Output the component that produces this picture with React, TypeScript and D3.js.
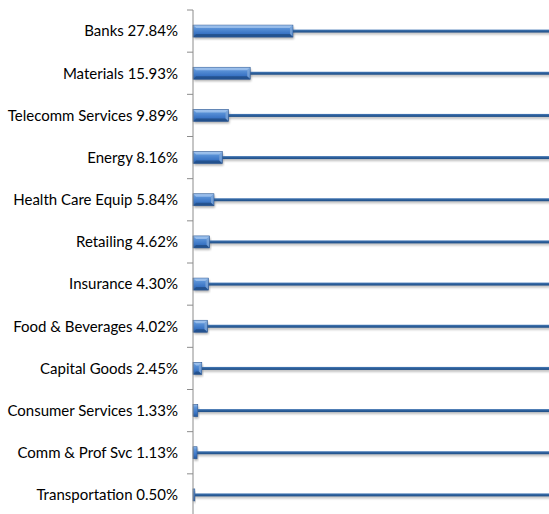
import React from "react";
import * as d3 from "d3";

const categories = [
  "Banks", "Materials", "Telecomm Services", "Energy", "Health Care Equip",
  "Retailing", "Insurance", "Food & Beverages", "Capital Goods",
  "Consumer Services", "Comm & Prof Svc", "Transportation",
];
const values = [27.84, 15.93, 9.89, 8.16, 5.84, 4.62, 4.3, 4.02, 2.45, 1.33, 1.13, 0.5];
const labels = categories.map((c, i) => `${c} ${values[i].toFixed(2)}%`);

const W = 549, H = 514;
const x0 = 193, top = 10, bottom = 516;

export default function App() {
  const x = d3.scaleLinear().domain([0, 100]).range([x0, 552]);
  const y = d3.scaleBand<string>().domain(categories).range([top, bottom]);
  const bw = y.bandwidth();
  const barH = 12;
  const lineH = 3;
  const ticks = d3.range(categories.length + 1).map((i) => top + i * bw);
  return (
    <svg width={W} height={H} style={{ position: "absolute", left: 0, top: 0 }}
      fontFamily="Lato, 'Open Sans', sans-serif">
      <defs>
        <linearGradient id="barg" x1="0" y1="0" x2="0" y2="1">
          <stop offset="0" stopColor="#8db6e8" />
          <stop offset="0.25" stopColor="#5b93d8" />
          <stop offset="0.7" stopColor="#3a74c4" />
          <stop offset="1" stopColor="#245799" />
        </linearGradient>
        <linearGradient id="lineg" x1="0" y1="0" x2="0" y2="1">
          <stop offset="0" stopColor="#4a7cb8" />
          <stop offset="0.5" stopColor="#2c5f9a" />
          <stop offset="1" stopColor="#1f4d85" />
        </linearGradient>
        <filter id="sh" x="-5%" y="-50%" width="110%" height="250%">
          <feGaussianBlur stdDeviation="1.2" />
        </filter>
      </defs>
      {categories.map((c, i) => {
        const cy = (y(c) as number) + bw / 2;
        const xe = x(values[i]);
        const w = xe - x0;
        return (
          <g key={c}>
            <rect x={xe} y={cy - lineH / 2 + 2} width={x(100) - xe} height={lineH}
              fill="#000" opacity={0.25} filter="url(#sh)" />
            <rect x={x0 + 1} y={cy - barH / 2 + 2} width={w} height={barH}
              fill="#000" opacity={0.3} filter="url(#sh)" />
            <rect x={xe} y={cy - lineH / 2} width={x(100) - xe} height={lineH}
              fill="url(#lineg)" />
            <rect x={x0} y={cy - barH / 2} width={w} height={barH}
              fill="url(#barg)" stroke="#2a5590" strokeWidth={0.6} />
            {w > 6 && (
              <>
                <polygon
                  points={`${x0 + 1},${cy - barH / 2 + 0.5} ${xe - 0.5},${cy - barH / 2 + 0.5} ${xe - 3},${cy - barH / 2 + 3} ${x0 + 3},${cy - barH / 2 + 3}`}
                  fill="#a9c9f0" opacity={0.7} />
                <polygon
                  points={`${xe - 0.5},${cy - barH / 2 + 0.5} ${xe - 0.5},${cy + barH / 2 - 0.5} ${xe - 3},${cy + barH / 2 - 3} ${xe - 3},${cy - barH / 2 + 3}`}
                  fill="#7fa8d8" opacity={0.8} />
                <polygon
                  points={`${x0 + 1},${cy + barH / 2 - 0.5} ${xe - 0.5},${cy + barH / 2 - 0.5} ${xe - 3},${cy + barH / 2 - 3} ${x0 + 3},${cy + barH / 2 - 3}`}
                  fill="#1f4a82" opacity={0.7} />
              </>
            )}
            <text x={178} y={cy} dy="0.35em" textAnchor="end" fontSize={15} fill="#000">
              {labels[i]}
            </text>
          </g>
        );
      })}
      <line x1={x0} x2={x0} y1={top} y2={H} stroke="#8c8c8c" strokeWidth={1} />
      {ticks.map((t, i) => (
        <line key={i} x1={x0 - 6} x2={x0} y1={t} y2={t} stroke="#8c8c8c" strokeWidth={1} />
      ))}
    </svg>
  );
}
